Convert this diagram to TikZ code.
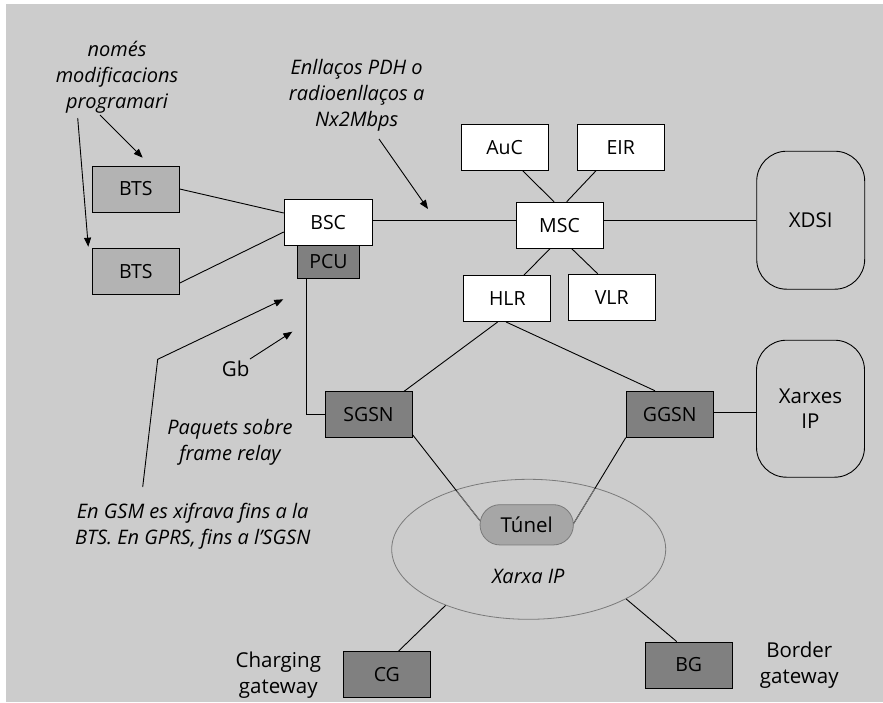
\documentclass[tikz,border=0pt]{standalone}
\usepackage{fontspec}
\setmainfont{Open Sans}
\usetikzlibrary{arrows.meta,shapes.geometric,calc}
\definecolor{paper}{HTML}{CCCCCC}
\definecolor{btsfill}{HTML}{B3B3B3}
\definecolor{corefill}{HTML}{808080}
\definecolor{tunnelfill}{HTML}{A6A6A6}
\definecolor{netline}{HTML}{7A7A7A}
\begin{document}
\begin{tikzpicture}[x=1pt,y=-1pt,
  box/.style={draw=black, line width=0.9pt, minimum width=87pt, minimum height=46pt,
    inner sep=0pt, font=\fontsize{19.5}{22}\selectfont},
  plain/.style={box, fill=white},
  radio/.style={box, fill=btsfill},
  core/.style={box, fill=corefill},
  cloud/.style={draw=black, line width=0.9pt, rounded corners=30pt, minimum width=108pt,
    minimum height=138pt, inner sep=0pt, align=center, font=\fontsize{20.5}{25}\selectfont},
  note/.style={inner sep=0pt, align=center, font=\fontsize{20}{25.8}\selectfont\itshape},
  caption/.style={inner sep=0pt, align=center, font=\fontsize{20.5}{25.8}\selectfont},
  link/.style={line width=0.9pt},
  pointer/.style={line width=0.9pt, -{Triangle[length=9pt,width=7pt]}}]
\useasboundingbox (0,0) rectangle (883,702);
\fill[paper] (6,4) rectangle (883,702);

% radio access part
\node[radio] (bts1) at (135.8,189) {BTS};
\node[radio] (bts2) at (135.8,271.7) {BTS};
\node[plain, minimum width=88pt] (bsc) at (328.2,222.3) {BSC};
\node[core, minimum width=62.4pt, minimum height=32.7pt] (pcu) at (328.5,261.7) {PCU};

% switching subsystem
\node[plain] (msc) at (559.5,225.2) {MSC};
\node[plain] (auc) at (504.7,147.3) {AuC};
\node[plain] (eir) at (620.8,147.3) {EIR};
\node[plain] (hlr) at (507.3,298.5) {HLR};
\node[plain] (vlr) at (611.7,297.2) {VLR};
\node[cloud] (xdsi) at (810.7,220.2) {XDSI};

% GPRS core
\node[core] (sgsn) at (368.5,414.8) {SGSN};
\node[core] (ggsn) at (669.7,414.2) {GGSN};
\node[cloud, minimum height=137pt] (xip) at (810.5,408.7) {Xarxes\\IP};
\node[draw=netline, line width=0.8pt, ellipse, minimum width=274pt, minimum height=140pt,
  inner sep=0pt] (ipnet) at (528.7,549.3) {};
\node[note] (ipnetlabel) at (528.3,576.7) {Xarxa IP};
\node[core] (cg) at (386.8,674.8) {CG};
\node[core] (bg) at (688.7,665) {BG};

% text notes
\node[note] (nomes) at (117,77) {només\\modificacions\\programari};
\node[note] (pdh) at (356.7,95) {Enllaços PDH o\\radioenllaços a\\Nx2Mbps};
\node[note] (fr) at (230,442) {Paquets sobre\\frame relay};
\node[note] (xifra) at (192.7,526.5) {En GSM es xifrava fins a la\\BTS. En GPRS, fins a l’SGSN};
\node[caption] (gb) at (235.7,369.3) {Gb};
\node[caption] (cglabel) at (278.3,675) {Charging\\gateway};
\node[caption] (bglabel) at (799.3,665.5) {Border\\gateway};

% radio links
\draw[link] (bts1.east) -- ([yshift=9.3pt]bsc.west);
\draw[link] ([yshift=-11.3pt]bts2.east) -- ([yshift=-9.7pt]bsc.west);
\draw[link] ([yshift=1.5pt]bsc.east) -- ([yshift=1.5pt]bsc.east -| msc.west);
\draw[link] (xdsi.west) -- (xdsi.west -| msc.east);

% MSC satellites
\draw[link] ([xshift=18pt]auc.south) -- ([xshift=-5.5pt]msc.north);
\draw[link] ([xshift=-24.8pt]eir.south) -- ([xshift=7.2pt]msc.north);
\draw[link] ([xshift=-9.5pt]msc.south) -- ([xshift=16.7pt]hlr.north);
\draw[link] ([xshift=12.2pt]msc.south) -- ([xshift=-14pt]vlr.north);

% GPRS links
\draw[link] ([xshift=-9.6pt]hlr.south) -- ([xshift=35.5pt]sgsn.north);
\draw[link] ([xshift=-1.3pt]hlr.south) -- ([xshift=-14.7pt]ggsn.north);
\draw[link] ([xshift=-21.8pt]pcu.south) |- (sgsn.west);
\draw[link] ([yshift=1.5pt]ggsn.east) -- ([yshift=1.5pt]ggsn.east -| xip.west);
\draw[link] ([xshift=11.5pt]cg.north) -- (ipnet.214);
\draw[link] ([xshift=-12pt]bg.north) -- (ipnet.333.7);

% tunnel between the support nodes, paler inside the IP network
\node[draw=netline, line width=0.8pt, fill=tunnelfill, rounded corners=20pt,
  minimum width=93.3pt, minimum height=40.3pt, inner sep=0pt,
  font=\fontsize{20.5}{22}\selectfont] (tunel) at (526.7,524.8) {Túnel};
\draw[link] ([yshift=3.7pt]sgsn.south east) -- ([yshift=4.5pt]tunel.west);
\draw[link] (ggsn.south west) -- ([yshift=1.5pt]tunel.east);
\begin{scope}
  \clip (ipnet.center) ellipse [x radius=136pt, y radius=69pt];
  \draw[link, netline] ([yshift=3.7pt]sgsn.south east) -- ([yshift=4.5pt]tunel.west);
  \draw[link, netline] (ggsn.south west) -- ([yshift=1.5pt]tunel.east);
\end{scope}

% pointers from the notes
\coordinate (n1s) at (100,115);
\coordinate (n1e) at (142.7,157.7);
\coordinate (n2s) at (77.7,118);
\coordinate (n2e) at (88.3,246.7);
\coordinate (ps) at (379,139);
\coordinate (pe) at (428,209);
\coordinate (xs) at (142.7,487);
\coordinate (xk) at (157.7,359.3);
\coordinate (xe) at (283.3,299.3);
\coordinate (gs) at (250,359);
\coordinate (ge) at (292.3,331.7);
\draw[pointer] (n1s) -- (n1e);
\draw[pointer] (n2s) -- (n2e);
\draw[pointer] (ps) -- (pe);
\draw[pointer] (xs) -- (xk) -- (xe);
\draw[pointer] (gs) -- (ge);
\end{tikzpicture}
\end{document}
